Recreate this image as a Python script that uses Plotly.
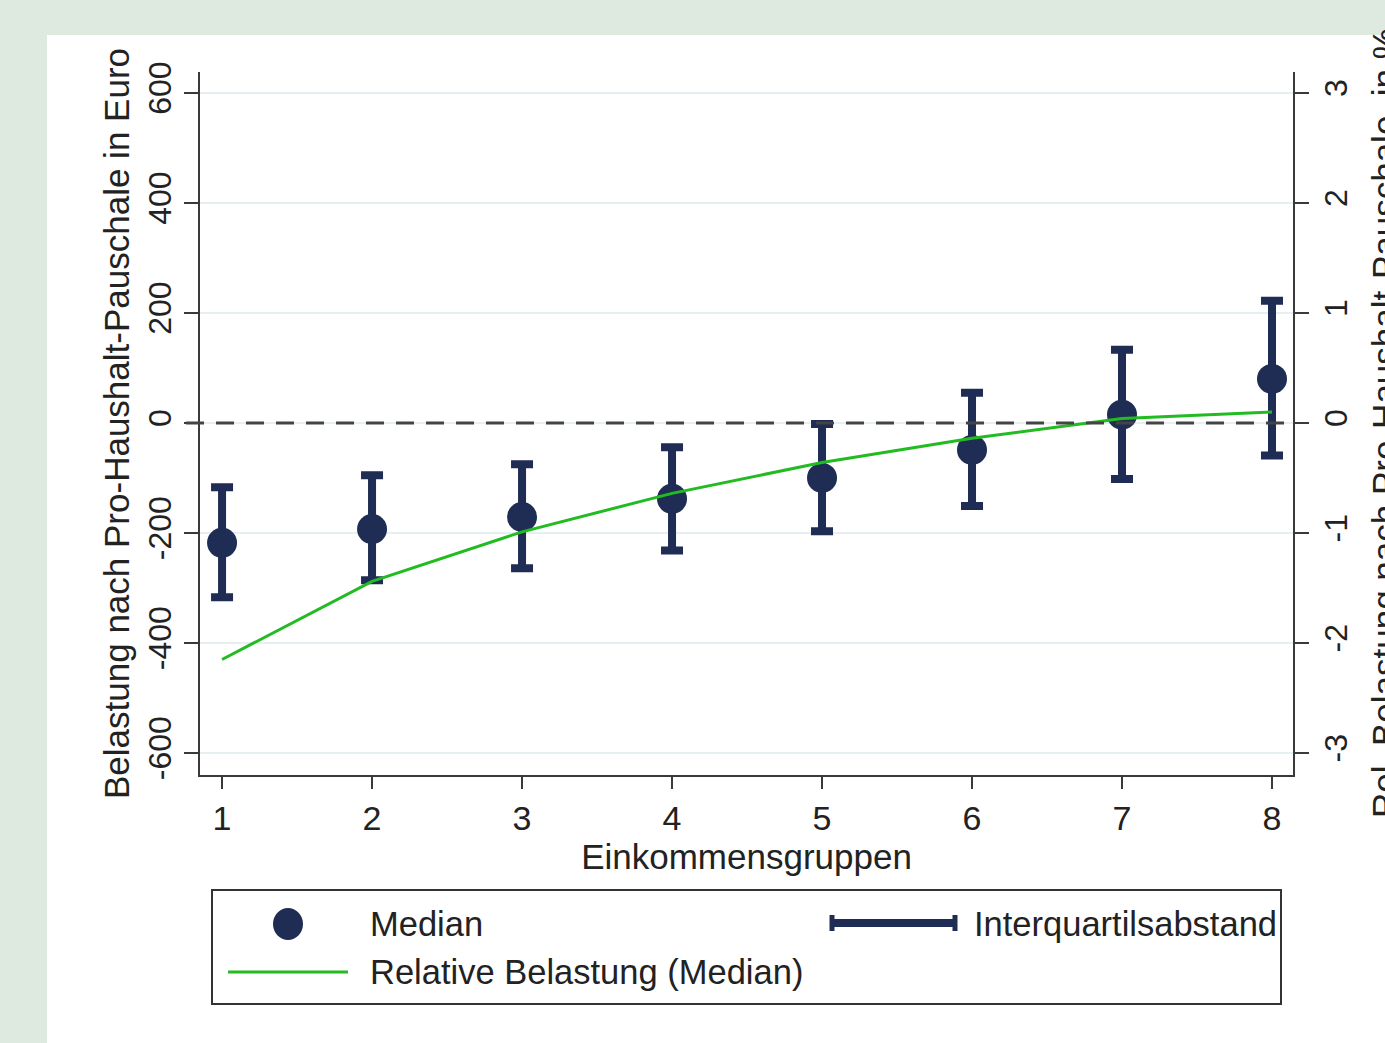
import plotly.graph_objects as go

# Einkommensgruppen und Kennzahlen der Belastung
gruppen = [1, 2, 3, 4, 5, 6, 7, 8]
median_euro = [-218, -193, -171, -138, -100, -49, 15, 80]
q75_euro = [-117, -95, -75, -44, -2, 55, 133, 222]
q25_euro = [-317, -286, -264, -232, -197, -151, -102, -59]
rel_median_pct = [-2.15, -1.44, -0.99, -0.64, -0.36, -0.14, 0.04, 0.10]

y_ticks = [-600, -400, -200, 0, 200, 400, 600]
y_ticklabels = ["-600", "-400", "-200", "0", "200", "400", "600"]
y2_ticks = [-3, -2, -1, 0, 1, 2, 3]
y2_ticklabels = ["-3", "-2", "-1", "0", "1", "2", "3"]

NAVY = "#1f2d54"
GREEN = "#22bb22"
AXIS = "#3a3a3a"
TXT = "#222222"
FONT = "Liberation Sans, Arial, sans-serif"
FS_TICK = 32
FS_TEXT = 35

W, H = 1385, 1043
L, R, T, B = 200, 92, 72, 268
PW, PH = W - L - R, H - T - B


def px(x):
    return (x - L) / PW


def py(y):
    return 1 - (y - T) / PH


err_plus = [hi - m for hi, m in zip(q75_euro, median_euro)]
err_minus = [m - lo for lo, m in zip(q25_euro, median_euro)]

fig = go.Figure()

fig.add_trace(go.Scatter(
    x=gruppen, y=median_euro, mode="markers", name="Median",
    marker=dict(color=NAVY, size=30),
    error_y=dict(type="data", symmetric=False, array=err_plus, arrayminus=err_minus,
                 color=NAVY, thickness=8, width=11),
    showlegend=False,
))

fig.add_trace(go.Scatter(
    x=gruppen, y=rel_median_pct, mode="lines", yaxis="y2",
    name="Relative Belastung (Median)",
    line=dict(color=GREEN, width=3),
    showlegend=False,
))

shapes = []
# weißer Grafikbereich auf grünem Hintergrund
shapes.append(dict(type="rect", xref="paper", yref="paper",
                   x0=px(47), x1=px(W + 50), y0=py(H + 50), y1=py(35),
                   fillcolor="white", line=dict(width=0), layer="below"))
# Nulllinie
shapes.append(dict(type="line", xref="paper", yref="y", x0=px(186), x1=1, y0=0, y1=0,
                   line=dict(color="#444444", width=3, dash="18px,12px"), layer="above"))

# Legende
shapes.append(dict(type="rect", xref="paper", yref="paper",
                   x0=px(212), x1=px(1281), y0=py(1004), y1=py(890),
                   line=dict(color="#333333", width=2), fillcolor="white"))
shapes.append(dict(type="circle", xref="paper", yref="paper",
                   xsizemode="pixel", ysizemode="pixel",
                   xanchor=px(288), yanchor=py(924),
                   x0=-15, x1=15, y0=-16, y1=16,
                   fillcolor=NAVY, line=dict(width=0)))
shapes.append(dict(type="line", xref="paper", yref="paper",
                   x0=px(832), x1=px(955), y0=py(923), y1=py(923),
                   line=dict(color=NAVY, width=8)))
for xc in (832, 955):
    shapes.append(dict(type="line", xref="paper", yref="paper",
                       x0=px(xc), x1=px(xc), y0=py(915), y1=py(931),
                       line=dict(color=NAVY, width=5)))
shapes.append(dict(type="line", xref="paper", yref="paper",
                   x0=px(228), x1=px(348), y0=py(972), y1=py(972),
                   line=dict(color=GREEN, width=3)))

annotations = []
for text, x, y in [("Median", 368, 924),
                   ("Interquartilsabstand", 972, 924),
                   ("Relative Belastung (Median)", 368, 972)]:
    annotations.append(dict(text=text, xref="paper", yref="paper", x=px(x), y=py(y),
                            xanchor="left", yanchor="middle", showarrow=False,
                            font=dict(family=FONT, size=FS_TEXT - 0.5, color=TXT)))

# Titel der rechten Achse, am rechten Rand angeschnitten
annotations.append(dict(text="Rel. Belastung nach Pro-Haushalt-Pauschale, in %",
                        xref="paper", yref="paper", x=px(1384), y=py(423),
                        xanchor="center", yanchor="middle", textangle=-90,
                        showarrow=False,
                        font=dict(family=FONT, size=FS_TEXT, color=TXT)))

axis_common = dict(
    showline=True, linecolor=AXIS, linewidth=2,
    ticks="outside", tickcolor=AXIS, tickwidth=2,
    zeroline=False,
)

fig.update_layout(
    width=W, height=H,
    margin=dict(l=L, r=R, t=T, b=B, autoexpand=False),
    paper_bgcolor="#deeadf",
    plot_bgcolor="white",
    showlegend=False,
    shapes=shapes,
    annotations=annotations,
    xaxis=dict(
        **axis_common,
        range=[0.853, 8.14], tickvals=gruppen, ticklen=12, showgrid=False,
        tickfont=dict(family=FONT, size=34, color=TXT),
        title=dict(text="Einkommensgruppen", standoff=0,
                   font=dict(family=FONT, size=FS_TEXT, color=TXT)),
    ),
    yaxis=dict(
        **axis_common,
        range=[-640, 638], tickvals=y_ticks, ticktext=y_ticklabels,
        ticklen=14, tickangle=-90,
        tickfont=dict(family=FONT, size=FS_TICK, color=TXT),
        showgrid=True, gridcolor="#e6eff1", gridwidth=2,
        title=dict(text="Belastung nach Pro-Haushalt-Pauschale in Euro", standoff=2,
                   font=dict(family=FONT, size=FS_TEXT, color=TXT)),
    ),
    yaxis2=dict(
        **axis_common,
        overlaying="y", side="right",
        range=[-3.2, 3.19], tickvals=y2_ticks, ticktext=y2_ticklabels,
        ticklen=14, tickangle=-90,
        tickfont=dict(family=FONT, size=FS_TICK, color=TXT),
        showgrid=False,
    ),
)

fig.write_html("out.html")
